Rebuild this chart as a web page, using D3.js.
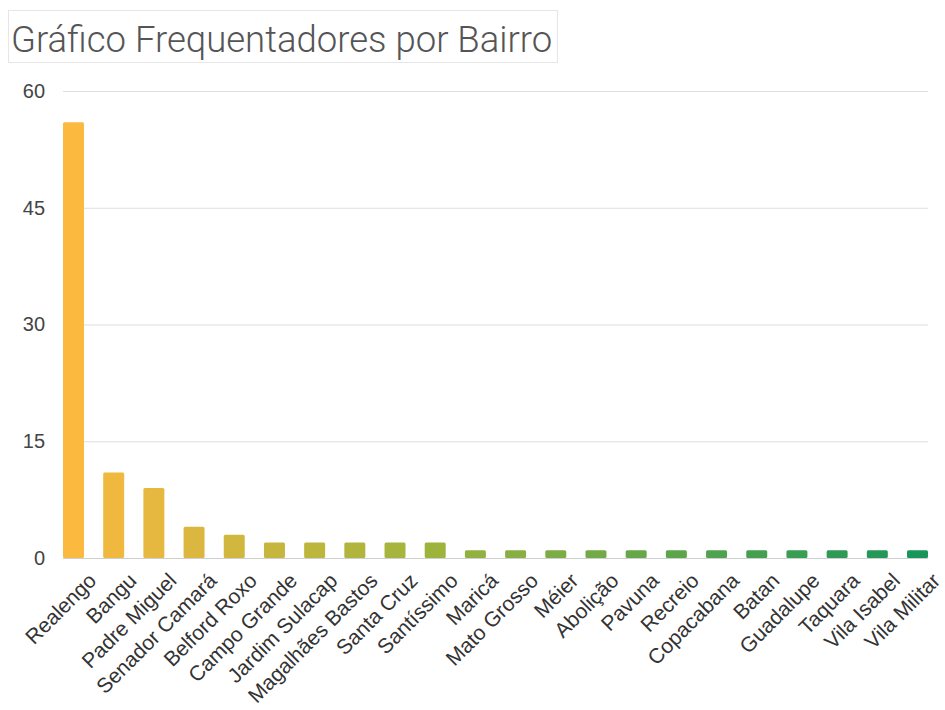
<!DOCTYPE html>
<html>
<head>
<meta charset="utf-8">
<script src="https://cdn.jsdelivr.net/npm/d3@7"></script>
<style>
  html, body { margin: 0; padding: 0; background: #fff; }
  svg { display: block; }
</style>
</head>
<body>
<svg id="chart" width="945" height="710"></svg>
<script>
// Visitors per neighbourhood
const bairros = [
  "Realengo", "Bangu", "Padre Miguel", "Senador Camará", "Belford Roxo",
  "Campo Grande", "Jardim Sulacap", "Magalhães Bastos", "Santa Cruz", "Santíssimo",
  "Maricá", "Mato Grosso", "Méier", "Abolição", "Pavuna", "Recreio",
  "Copacabana", "Batan", "Guadalupe", "Taquara", "Vila Isabel", "Vila Militar"
];
const frequentadores = [56, 11, 9, 4, 3, 2, 2, 2, 2, 2, 1, 1, 1, 1, 1, 1, 1, 1, 1, 1, 1, 1];
const yTicks = [0, 15, 30, 45, 60];
const titulo = "Gráfico Frequentadores por Bairro";

const svg = d3.select("#chart");

// Title with its thin frame
const titleG = svg.append("g");
titleG.append("rect")
  .attr("x", 8.5).attr("y", 10.5)
  .attr("width", 549).attr("height", 52)
  .attr("fill", "#fff")
  .attr("stroke", "#e6e6e6");
titleG.append("text")
  .attr("x", 11).attr("y", 52)
  .attr("font-family", "Roboto, 'Open Sans', sans-serif")
  .attr("font-weight", 300)
  .attr("font-size", 36.5)
  .attr("fill", "#555")
  .text(titulo);

// Scales
const x = d3.scaleBand()
  .domain(bairros)
  .range([53.4, 937.6])
  .paddingInner(0.478)
  .paddingOuter(0.239);

const y = d3.scaleLinear()
  .domain([0, 60])
  .range([558, 91]);

// Colour ramp from orange through olive to green along the bars
const idx = d3.scaleLinear()
  .domain([0, 9, bairros.length - 1])
  .range(["#fbb940", "#9db43c", "#18955a"])
  .interpolate(d3.interpolateRgb);

const gridX0 = x(bairros[0]);
const gridX1 = x(bairros[bairros.length - 1]) + x.bandwidth();

// Horizontal gridlines + y tick labels
const yAxis = d3.axisLeft(y)
  .tickValues(yTicks)
  .tickSize(-(gridX1 - gridX0))
  .tickPadding(18);

const gy = svg.append("g")
  .attr("transform", `translate(${gridX0},0)`)
  .call(yAxis);
gy.select(".domain").remove();
gy.selectAll(".tick line")
  .attr("stroke", d => d === 0 ? "#cfcfcf" : "#dedede")
  .attr("stroke-width", 1.2);
gy.selectAll(".tick text")
  .attr("font-family", "'Liberation Sans', Arial, sans-serif")
  .attr("font-size", 20)
  .attr("fill", "#444");

// Bars
svg.append("g")
  .selectAll("rect")
  .data(bairros)
  .join("rect")
  .attr("x", d => x(d))
  .attr("width", x.bandwidth())
  .attr("y", (d, i) => y(frequentadores[i]))
  .attr("height", (d, i) => y(0) - y(frequentadores[i]))
  .attr("rx", 1.5)
  .attr("fill", (d, i) => idx(i));

// Category labels, rotated
const xAxis = d3.axisBottom(x).tickSize(0).tickPadding(0);
const gx = svg.append("g")
  .attr("transform", `translate(0,${y(0)})`)
  .call(xAxis);
gx.select(".domain").remove();
gx.selectAll(".tick text")
  .attr("font-family", "'Liberation Sans', Arial, sans-serif")
  .attr("font-size", 21)
  .attr("fill", "#333")
  .attr("text-anchor", "end")
  .attr("dy", null)
  .attr("y", 0)
  .attr("transform", "translate(24,24) rotate(-45)");
</script>
</body>
</html>
